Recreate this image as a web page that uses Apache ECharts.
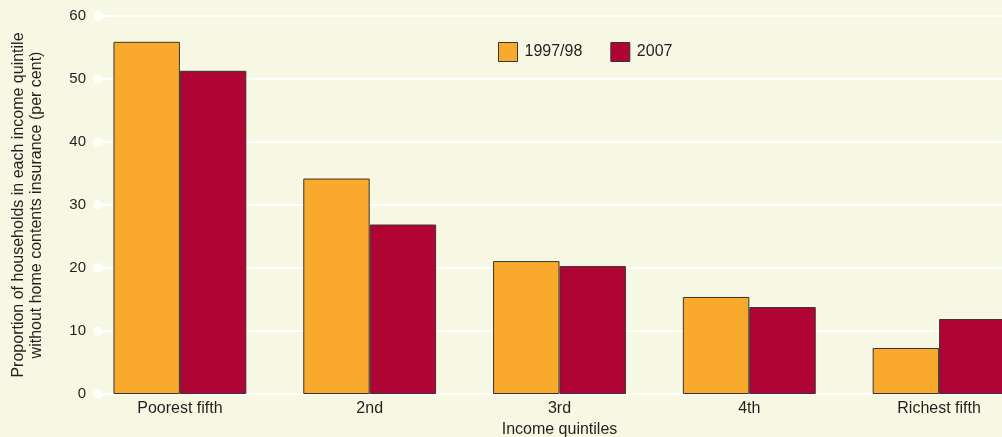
<!DOCTYPE html>
<html><head><meta charset="utf-8">
<script src="https://cdn.jsdelivr.net/npm/echarts@6/dist/echarts.min.js"></script>
<style>html,body{margin:0;padding:0;background:#f7f8e3;}#c{width:1002px;height:437px;}</style>
</head><body><div id="c"></div>
<script>
const categories = ['Poorest fifth', '2nd', '3rd', '4th', 'Richest fifth'];
const series1997 = [55.9, 34.2, 21.1, 15.4, 7.3];
const series2007 = [51.3, 26.9, 20.3, 13.8, 11.9];
const yTicks = [0, 10, 20, 30, 40, 50, 60];
const seriesNames = ['1997/98', '2007'];

const FONT = 'Liberation Sans, Arial, sans-serif';
const TXT = '#231f20';
const chart = echarts.init(document.getElementById('c'));
chart.setOption({
  backgroundColor: '#f7f8e3',
  animation: false,
  textStyle: { fontFamily: FONT, color: TXT },
  legend: {
    data: seriesNames,
    left: 498, top: 42, padding: 0,
    icon: 'rect',
    itemWidth: 19, itemHeight: 19, itemGap: 28,
    itemStyle: { borderColor: '#3a3333', borderWidth: 1 },
    textStyle: { fontFamily: FONT, fontSize: 16, color: TXT, padding: [0, 0, 0, 2] }
  },
  grid: [
    { left: 85, width: 949, top: 16, bottom: 43, outerBoundsMode: 'none', containLabel: false },
    { left: 98, right: 0, top: 16, bottom: 43, outerBoundsMode: 'none', containLabel: false }
  ],
  xAxis: [
    { type: 'category', gridIndex: 0, data: categories,
      axisLine: { show: false }, axisTick: { show: false },
      axisLabel: { fontFamily: FONT, fontSize: 16, color: TXT, margin: 7 },
      name: 'Income quintiles', nameLocation: 'middle', nameGap: 25,
      nameTextStyle: { fontFamily: FONT, fontSize: 16, color: TXT } },
    { type: 'value', gridIndex: 1, min: 0, max: 1, show: false }
  ],
  yAxis: [
    { type: 'value', gridIndex: 0, min: 0, max: 60, interval: 10, show: false },
    { type: 'value', gridIndex: 1, min: 0, max: 60, interval: 10,
      axisLine: { show: false }, axisTick: { show: false },
      axisLabel: { fontFamily: FONT, fontSize: 15, color: TXT, margin: 12 },
      splitLine: { show: true, lineStyle: { color: '#ffffff', width: 2 } },
      name: 'Proportion of households in each income quintile\nwithout home contents insurance (per cent)',
      nameLocation: 'middle', nameGap: 52, nameRotate: 90,
      nameTextStyle: { fontFamily: FONT, fontSize: 16, color: TXT, lineHeight: 18, align: 'center' } }
  ],
  series: [
    { type: 'scatter', xAxisIndex: 1, yAxisIndex: 1, symbol: 'circle', symbolSize: 10,
      itemStyle: { color: '#ffffff' }, clip: false, silent: true, z: 2,
      data: yTicks.map(v => [0, v]) },
    { name: seriesNames[0], type: 'bar', xAxisIndex: 0, yAxisIndex: 0, data: series1997,
      barGap: '0%', barCategoryGap: '30%', z: 3,
      itemStyle: { color: '#f9a92c', borderColor: '#3a3333', borderWidth: 1 } },
    { name: seriesNames[1], type: 'bar', xAxisIndex: 0, yAxisIndex: 0, data: series2007,
      barGap: '0%', barCategoryGap: '30%', z: 3,
      itemStyle: { color: '#b00435', borderColor: '#3a3333', borderWidth: 1 } }
  ]
});
</script></body></html>
